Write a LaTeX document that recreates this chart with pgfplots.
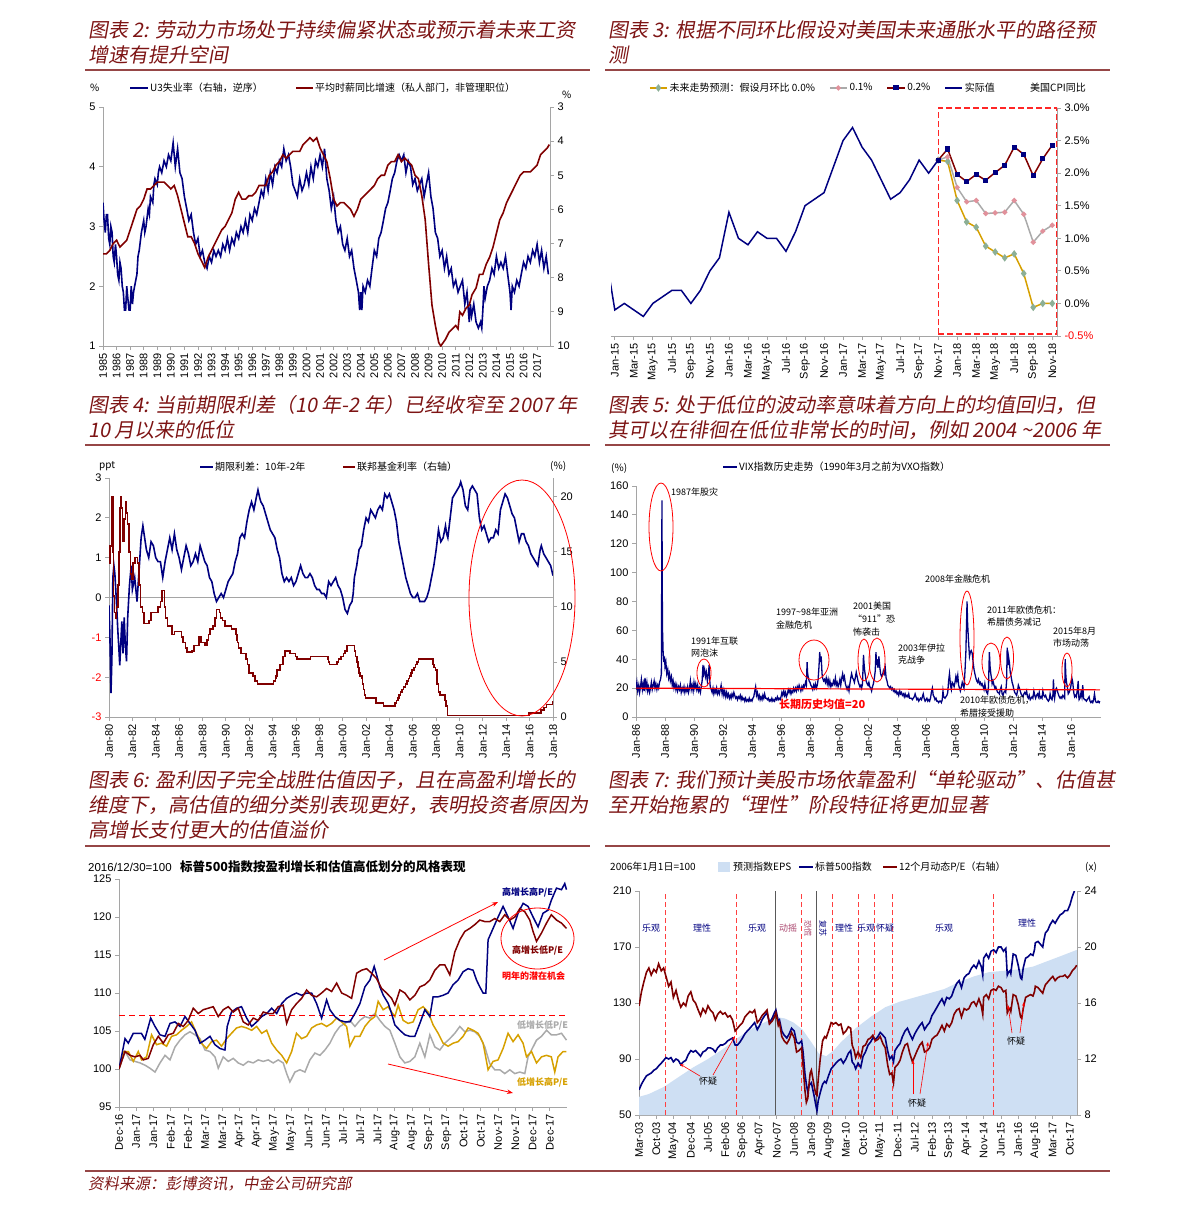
\documentclass[border=0pt]{standalone}
\usepackage{fontspec}
\setmainfont{Liberation Sans}
\newfontfamily\cjk{Noto Sans CJK SC}
\newfontfamily\cjkt[FakeSlant=0.18]{Noto Sans CJK SC}
\usepackage{pgfplots}
\pgfplotsset{compat=1.18}
\usetikzlibrary{arrows.meta}
\definecolor{navy}{RGB}{0,0,128}
\definecolor{dred}{RGB}{128,0,0}
\definecolor{tred}{RGB}{125,20,20}
\definecolor{rulec}{RGB}{150,70,70}
\definecolor{gold}{RGB}{214,160,0}
\definecolor{sage}{RGB}{140,175,150}
\definecolor{lgray}{RGB}{170,170,170}
\definecolor{pinkm}{RGB}{225,145,155}
\definecolor{lblue}{RGB}{206,223,243}
\definecolor{axgray}{RGB}{165,165,165}
\definecolor{plum}{RGB}{170,70,110}
\pgfplotsset{base/.style={scale only axis, anchor=south west,
  axis line style={draw=axgray, line width=0.8pt, -},
  tick style={draw=axgray, line width=0.8pt}, tick align=outside, major tick length=4pt,
  tick label style={font=\fontsize{11}{13}\selectfont, text=black},
  /pgf/number format/assume math mode=true, /pgf/number format/1000 sep={},
  xticklabel style={rotate=90, anchor=east}, clip=true}}
\newcommand{\ttl}[3]{\node[anchor=west, inner sep=0pt, text=tred] at (#1,#2) {\cjkt\fontsize{20}{24}\selectfont #3};}
\newcommand{\lgd}[3]{\node[anchor=west, inner sep=0pt] at (#1,#2) {\cjk\fontsize{10}{12}\selectfont #3};}
\newcommand{\anno}[3]{\node[anchor=west, inner sep=0pt] at (#1,#2) {\cjk\fontsize{9}{11}\selectfont #3};}
\newcommand{\smt}[3]{\node[inner sep=0pt, text=navy] at (#1,#2) {\cjk\fontsize{9}{11}\selectfont #3};}
\begin{document}
\begin{tikzpicture}[x=1pt,y=-1pt]
\path[use as bounding box] (0,0) rectangle (1191,1212);
% ---------------- titles and rules ----------------
\ttl{88}{30}{图表 2: 劳动力市场处于持续偏紧状态或预示着未来工资}
\ttl{88}{55}{增速有提升空间}
\ttl{608}{30}{图表 3: 根据不同环比假设对美国未来通胀水平的路径预}
\ttl{608}{55}{测}
\draw[rulec, line width=1.3pt] (85,70) -- (590,70);
\draw[rulec, line width=1.3pt] (605,70) -- (1110,70);
\ttl{88}{405}{图表 4: 当前期限利差（10 年-2 年）已经收窄至 2007 年}
\ttl{88}{430}{10 月以来的低位}
\ttl{608}{405}{图表 5: 处于低位的波动率意味着方向上的均值回归，但}
\ttl{608}{430}{其可以在徘徊在低位非常长的时间，例如 2004 \textasciitilde2006 年}
\draw[rulec, line width=1.3pt] (85,445) -- (590,445);
\draw[rulec, line width=1.3pt] (605,445) -- (1110,445);
\ttl{88}{780}{图表 6: 盈利因子完全战胜估值因子，且在高盈利增长的}
\ttl{88}{805}{维度下，高估值的细分类别表现更好，表明投资者原因为}
\ttl{88}{830}{高增长支付更大的估值溢价}
\ttl{608}{780}{图表 7: 我们预计美股市场依靠盈利“单轮驱动”、估值甚}
\ttl{608}{805}{至开始拖累的“理性”阶段特征将更加显著}
\draw[rulec, line width=1.3pt] (85,846) -- (590,846);
\draw[rulec, line width=1.3pt] (605,846) -- (1110,846);
\draw[rulec, line width=1.3pt] (85,1171) -- (1110,1171);
\node[anchor=west, inner sep=0pt, text=tred] at (88,1184) {\cjkt\fontsize{15.5}{18}\selectfont 资料来源：彭博资讯，中金公司研究部};

% ================= Chart 2 =================
\lgd{90}{88}{\%}
\draw[navy, line width=2pt] (130,88) -- (148,88); \lgd{150}{88}{U3失业率（右轴，逆序）}
\draw[dred, line width=2pt] (296,88) -- (313,88); \lgd{315}{88}{平均时薪同比增速（私人部门，非管理职位）}
\lgd{562}{95}{\%}
\begin{axis}[base, at={(103pt,-346pt)}, width=447pt, height=239pt, xmin=1985, xmax=2017.95, ymin=1, ymax=5,
  ytick={1,2,3,4,5}, xtick={1985,1986,...,2017}, axis x line*=bottom, axis y line*=left]
\addplot[navy, line width=1.6pt] coordinates {
(1985.00,3.4) (1985.08,3.1) (1985.17,2.9) (1985.25,3.2) (1985.33,3.2) (1985.42,2.8) (1985.50,2.7) (1985.58,3.0) (1985.67,2.9) (1985.75,2.5) (1985.83,2.4) (1985.92,2.7)
(1986.00,2.5) (1986.08,2.2) (1986.17,2.1) (1986.25,2.4) (1986.33,2.3) (1986.42,2.0) (1986.50,1.9) (1986.58,1.6) (1986.67,1.6) (1986.75,2.0) (1986.83,1.8) (1986.92,1.6)
(1987.00,1.6) (1987.08,2.0) (1987.17,1.7) (1987.25,1.9) (1987.33,2.0) (1987.50,2.2) (1987.58,2.5) (1987.67,2.6) (1987.83,2.9) (1988.00,3.1) (1988.08,2.9) (1988.17,3.0)
(1988.33,3.3) (1988.42,3.2) (1988.50,3.5) (1988.67,3.4) (1988.75,3.7) (1988.83,3.8) (1989.00,3.7) (1989.08,3.9) (1989.17,4.0) (1989.33,3.9) (1989.50,4.1) (1989.67,4.0) (1989.83,4.2)
(1990.00,4.1) (1990.17,4.4) (1990.25,4.2) (1990.33,4.0) (1990.50,4.3) (1990.67,3.9) (1990.83,3.8) (1991.00,3.5) (1991.17,3.3) (1991.33,3.1) (1991.50,3.2) (1991.67,2.9) (1991.83,2.7)
(1992.00,2.8) (1992.17,2.5) (1992.33,2.6) (1992.50,2.4) (1992.67,2.3) (1992.83,2.5) (1993.00,2.4) (1993.17,2.6) (1993.33,2.5) (1993.50,2.6) (1993.67,2.5) (1993.83,2.7)
(1994.00,2.6) (1994.17,2.8) (1994.33,2.6) (1994.50,2.8) (1994.67,2.7) (1994.83,2.9) (1995.00,2.8) (1995.17,3.0) (1995.33,2.9) (1995.50,3.1) (1995.67,2.9) (1995.83,3.2)
(1996.00,3.1) (1996.17,3.3) (1996.33,3.2) (1996.50,3.4) (1996.67,3.6) (1996.83,3.5) (1997.00,3.8) (1997.17,3.6) (1997.33,3.9) (1997.50,3.7) (1997.67,4.0) (1997.83,3.9)
(1998.00,4.1) (1998.17,4.0) (1998.33,4.3) (1998.50,4.1) (1998.67,4.2) (1998.83,4.0) (1999.00,3.7) (1999.17,3.6) (1999.33,3.5) (1999.50,3.8) (1999.67,3.6) (1999.83,3.7)
(2000.00,3.9) (2000.17,3.7) (2000.33,4.0) (2000.50,3.8) (2000.67,4.1) (2000.83,4.0) (2001.00,4.2) (2001.17,4.0) (2001.33,4.3) (2001.50,3.8) (2001.67,3.6) (2001.83,3.3)
(2002.00,3.5) (2002.17,3.1) (2002.33,2.9) (2002.50,3.0) (2002.67,2.7) (2002.83,2.6) (2003.00,2.8) (2003.17,2.5) (2003.33,2.6) (2003.50,2.3) (2003.67,2.1) (2003.83,1.9) (2003.92,1.6)
(2004.00,1.9) (2004.08,1.6) (2004.17,2.0) (2004.33,1.9) (2004.50,2.1) (2004.67,2.0) (2004.83,2.3) (2005.00,2.6) (2005.17,2.5) (2005.33,2.8) (2005.50,2.9) (2005.67,3.1) (2005.83,3.3)
(2006.00,3.4) (2006.17,3.6) (2006.33,3.8) (2006.50,3.9) (2006.67,4.1) (2006.83,4.2) (2007.00,4.1) (2007.17,4.2) (2007.33,3.9) (2007.50,4.1) (2007.67,4.0) (2007.83,3.7)
(2008.00,3.8) (2008.17,3.6) (2008.33,3.7) (2008.50,3.8) (2008.67,3.5) (2008.83,3.7) (2009.00,3.9) (2009.17,3.5) (2009.33,3.3) (2009.50,2.9) (2009.67,2.8) (2009.83,2.5)
(2010.00,2.6) (2010.17,2.3) (2010.33,2.5) (2010.50,2.2) (2010.67,2.3) (2010.83,2.0) (2011.00,2.1) (2011.17,1.9) (2011.33,2.0) (2011.50,2.1) (2011.67,1.7) (2011.83,1.9)
(2012.00,1.4) (2012.08,1.7) (2012.17,1.5) (2012.33,1.7) (2012.50,1.4) (2012.67,1.3) (2012.83,1.4) (2012.92,1.3) (2013.00,1.6) (2013.08,2.0) (2013.17,1.8) (2013.33,2.0) (2013.50,2.1) (2013.67,2.3) (2013.83,2.2)
(2014.00,2.5) (2014.17,2.3) (2014.33,2.4) (2014.50,2.3) (2014.67,2.5) (2014.83,2.2) (2015.00,1.9) (2015.08,1.6) (2015.17,2.0) (2015.33,1.9) (2015.50,2.1) (2015.67,2.0) (2015.83,2.2)
(2016.00,2.4) (2016.17,2.3) (2016.33,2.5) (2016.50,2.4) (2016.67,2.6) (2016.83,2.5) (2017.00,2.7) (2017.17,2.4) (2017.33,2.6) (2017.50,2.3) (2017.67,2.5) (2017.83,2.2)};
\end{axis}
\begin{axis}[base, at={(103pt,-346pt)}, width=447pt, height=239pt, xmin=1985, xmax=2017.95, ymin=3, ymax=10, y dir=reverse,
  ytick={3,4,...,10}, axis x line=none, axis y line*=right]
\addplot[dred, line width=1.6pt] coordinates {
(1985.0,7.3) (1985.25,7.3) (1985.5,7.2) (1985.75,7.0) (1986.0,6.9) (1986.25,7.1) (1986.5,7.0) (1986.75,6.9) (1987.0,6.6) (1987.25,6.3) (1987.5,6.0) (1987.75,5.9)
(1988.0,5.7) (1988.25,5.4) (1988.5,5.4) (1988.75,5.3) (1989.0,5.2) (1989.25,5.2) (1989.5,5.2) (1989.75,5.3) (1990.0,5.4) (1990.25,5.3) (1990.5,5.6) (1990.75,6.0)
(1991.0,6.4) (1991.25,6.8) (1991.5,6.8) (1991.75,7.0) (1992.0,7.3) (1992.25,7.5) (1992.5,7.7) (1992.75,7.4) (1993.0,7.2) (1993.25,7.0) (1993.5,6.8) (1993.75,6.6)
(1994.0,6.5) (1994.25,6.3) (1994.5,6.1) (1994.75,5.7) (1995.0,5.5) (1995.25,5.7) (1995.5,5.7) (1995.75,5.6) (1996.0,5.6) (1996.25,5.5) (1996.5,5.3) (1996.75,5.3)
(1997.0,5.3) (1997.25,5.0) (1997.5,4.9) (1997.75,4.7) (1998.0,4.6) (1998.25,4.4) (1998.5,4.5) (1998.75,4.4) (1999.0,4.3) (1999.25,4.3) (1999.5,4.3) (1999.75,4.1)
(2000.0,4.0) (2000.25,3.9) (2000.5,4.0) (2000.75,3.9) (2001.0,4.2) (2001.25,4.4) (2001.5,4.6) (2001.75,5.1) (2002.0,5.7) (2002.25,5.9) (2002.5,5.8) (2002.75,5.8)
(2003.0,5.9) (2003.25,6.0) (2003.5,6.2) (2003.75,6.0) (2004.0,5.7) (2004.25,5.6) (2004.5,5.5) (2004.75,5.4) (2005.0,5.3) (2005.25,5.1) (2005.5,5.0) (2005.75,5.0)
(2006.0,4.7) (2006.25,4.6) (2006.5,4.6) (2006.75,4.4) (2007.0,4.6) (2007.25,4.5) (2007.5,4.6) (2007.75,4.7) (2008.0,5.0) (2008.25,5.1) (2008.5,5.6) (2008.75,6.3)
(2009.0,7.6) (2009.25,8.8) (2009.5,9.4) (2009.75,9.9) (2009.9,10.0) (2010.25,9.8) (2010.5,9.6) (2010.75,9.5) (2011.0,9.4) (2011.17,9.5) (2011.3,9.0) (2011.5,9.1)
(2011.75,8.9) (2012.0,8.8) (2012.2,8.5) (2012.5,8.3) (2012.75,7.9) (2013.0,7.9) (2013.25,7.6) (2013.5,7.4) (2013.75,7.1) (2014.0,6.7) (2014.25,6.3) (2014.5,6.1)
(2014.75,5.8) (2015.0,5.6) (2015.25,5.4) (2015.5,5.2) (2015.75,5.0) (2016.0,4.9) (2016.25,4.9) (2016.5,4.9) (2016.75,4.8) (2017.0,4.7) (2017.25,4.4) (2017.5,4.3) (2017.75,4.2) (2017.9,4.1)};
\end{axis}

% ================= Chart 3 =================
\lgd{1030}{88}{美国CPI同比}
\begin{axis}[base, at={(611pt,-336pt)}, width=446pt, height=228pt, xmin=-0.4, xmax=46.5, ymin=-0.5, ymax=3.0,
  axis x line*=bottom, axis y line*=right, ytick={-0.5,0,0.5,1,1.5,2,2.5,3},
  yticklabels={\textcolor{red}{-0.5\%},0.0\%,0.5\%,1.0\%,1.5\%,2.0\%,2.5\%,3.0\%},
  xtick={0,2,...,46}, xticklabels={Jan-15,Mar-15,May-15,Jul-15,Sep-15,Nov-15,Jan-16,Mar-16,May-16,Jul-16,Sep-16,Nov-16,Jan-17,Mar-17,May-17,Jul-17,Sep-17,Nov-17,Jan-18,Mar-18,May-18,Jul-18,Sep-18,Nov-18},
  legend style={at={(axis description cs:0.085,1.088)}, anchor=west, draw=none, fill=none, legend columns=-1,
    font=\cjk\fontsize{10}{12}\selectfont, inner sep=0pt, /tikz/every even column/.append style={column sep=12pt}},
  legend image post style={line width=1.5pt}]
\draw[red!85, dash pattern=on 6pt off 3pt, line width=1.1pt] (axis cs:34,-0.47) rectangle (axis cs:46.5,3.0);
\addplot[gold, line width=1.5pt, mark=diamond*, mark size=2.6pt, mark options={fill=sage, draw=sage}] coordinates {
(34,2.2) (35,2.18) (36,1.58) (37,1.25) (38,1.17) (39,0.88) (40,0.79) (41,0.70) (42,0.76) (43,0.46) (44,-0.06) (45,0.0) (46,0.0)};
\addlegendentry{未来走势预测：假设月环比 0.0\%}
\addplot[lgray, line width=1.5pt, mark=*, mark size=1.8pt, mark options={fill=pinkm, draw=pinkm}] coordinates {
(34,2.2) (35,2.25) (36,1.78) (37,1.56) (38,1.58) (39,1.38) (40,1.39) (41,1.40) (42,1.58) (43,1.37) (44,0.94) (45,1.11) (46,1.20)};
\addlegendentry{0.1\%}
\addplot[dred, line width=1.5pt, mark=square*, mark size=1.8pt, mark options={fill=navy, draw=navy}] coordinates {
(34,2.2) (35,2.37) (36,1.98) (37,1.87) (38,1.98) (39,1.89) (40,2.01) (41,2.12) (42,2.40) (43,2.29) (44,1.96) (45,2.22) (46,2.43)};
\addlegendentry{0.2\%}
\addplot[navy, line width=1.5pt] coordinates {
(-1,0.8) (0,-0.1) (1,0.0) (2,-0.1) (3,-0.2) (4,0.0) (5,0.1) (6,0.2) (7,0.2) (8,0.0) (9,0.2) (10,0.5) (11,0.7) (12,1.4) (13,1.0) (14,0.9) (15,1.1) (16,1.0) (17,1.0)
(18,0.8) (19,1.1) (20,1.5) (21,1.6) (22,1.7) (23,2.1) (24,2.5) (25,2.7) (26,2.4) (27,2.2) (28,1.9) (29,1.6) (30,1.7) (31,1.9) (32,2.2) (33,2.0) (34,2.2)};
\addlegendentry{实际值}
\end{axis}

% ================= Chart 4 =================
\lgd{99}{466}{ppt}
\draw[navy, line width=2pt] (200,467) -- (213,467); \lgd{215}{467}{期限利差：10年-2年}
\draw[dred, line width=2pt] (343,467) -- (355,467); \lgd{357}{467}{联邦基金利率（右轴）}
\lgd{550}{466}{(\%)}
\begin{axis}[base, at={(109pt,-717pt)}, width=444pt, height=239pt, xmin=1980, xmax=2018, ymin=-3, ymax=3,
  ytick={-3,-2,...,3}, yticklabels={\textcolor{red}{-3},\textcolor{red}{-2},\textcolor{red}{-1},0,1,2,3},
  xtick={1980,1982,...,2018}, xticklabels={Jan-80,Jan-82,Jan-84,Jan-86,Jan-88,Jan-90,Jan-92,Jan-94,Jan-96,Jan-98,Jan-00,Jan-02,Jan-04,Jan-06,Jan-08,Jan-10,Jan-12,Jan-14,Jan-16,Jan-18},
  axis x line*=bottom, axis y line*=left]
\addplot[axgray, line width=0.8pt] coordinates {(1980,0) (2018,0)};
\addplot[navy, line width=1.6pt] coordinates {
(1980.0,-0.2) (1980.08,-1.0) (1980.17,-2.4) (1980.25,-1.5) (1980.33,0.5) (1980.42,0.8) (1980.5,0.6) (1980.58,0.2) (1980.67,-0.3) (1980.75,-0.8) (1980.83,-1.2) (1980.92,-1.7)
(1981.0,-1.2) (1981.1,-0.6) (1981.2,-1.4) (1981.3,-0.5) (1981.4,-1.2) (1981.5,-1.6) (1981.6,-0.5) (1981.75,0.3) (1981.9,0.8) (1982.0,0.2) (1982.2,0.5) (1982.4,-0.1) (1982.6,0.8)
(1982.75,1.5) (1982.9,1.8) (1983.0,1.6) (1983.2,1.2) (1983.4,1.0) (1983.6,1.4) (1983.8,1.3) (1984.0,1.0) (1984.2,0.9) (1984.4,0.9) (1984.6,0.5) (1984.8,0.9)
(1985.0,1.2) (1985.2,1.5) (1985.4,1.2) (1985.6,1.6) (1985.8,1.2) (1986.0,1.0) (1986.2,0.7) (1986.4,1.0) (1986.6,1.3) (1986.8,1.1) (1987.0,0.8) (1987.2,0.9) (1987.4,1.1)
(1987.6,0.9) (1987.8,1.3) (1988.0,1.1) (1988.2,0.9) (1988.4,0.8) (1988.6,0.5) (1988.8,0.4) (1989.0,0.1) (1989.2,-0.1) (1989.4,0.0) (1989.6,0.1) (1989.8,0.0)
(1990.0,0.2) (1990.2,0.4) (1990.4,0.5) (1990.6,0.6) (1990.8,0.9) (1991.0,1.1) (1991.2,1.5) (1991.4,1.6) (1991.6,1.5) (1991.8,1.9) (1992.0,2.2) (1992.2,2.4) (1992.4,2.2)
(1992.6,2.5) (1992.75,2.7) (1992.9,2.5) (1993.0,2.4) (1993.2,2.3) (1993.4,2.1) (1993.6,1.9) (1993.8,1.7) (1994.0,1.6) (1994.2,1.5) (1994.4,1.2) (1994.6,1.0) (1994.8,0.6)
(1995.0,0.4) (1995.2,0.5) (1995.4,0.4) (1995.6,0.5) (1995.8,0.3) (1996.0,0.4) (1996.2,0.6) (1996.4,0.8) (1996.6,0.6) (1996.8,0.5) (1997.0,0.5) (1997.2,0.6) (1997.4,0.5)
(1997.6,0.3) (1997.8,0.2) (1998.0,0.2) (1998.2,0.1) (1998.4,0.1) (1998.6,0.0) (1998.8,0.4) (1999.0,0.3) (1999.2,0.4) (1999.4,0.5) (1999.6,0.3) (1999.8,0.2)
(2000.0,0.0) (2000.2,-0.3) (2000.4,-0.4) (2000.6,-0.2) (2000.8,-0.1) (2000.9,0.1) (2001.0,0.5) (2001.2,0.8) (2001.4,1.2) (2001.6,1.3) (2001.8,1.7) (2002.0,2.0)
(2002.2,1.9) (2002.4,2.2) (2002.6,2.1) (2002.8,2.0) (2003.0,2.2) (2003.2,2.3) (2003.4,2.2) (2003.6,2.6) (2003.8,2.5) (2004.0,2.6) (2004.2,2.4) (2004.4,2.2) (2004.6,1.9)
(2004.8,1.4) (2005.0,1.1) (2005.2,0.8) (2005.4,0.5) (2005.6,0.3) (2005.8,0.1) (2006.0,0.0) (2006.2,0.0) (2006.4,0.1) (2006.6,-0.1) (2006.8,-0.1) (2007.0,-0.1)
(2007.2,0.0) (2007.4,0.2) (2007.6,0.5) (2007.8,0.8) (2008.0,1.2) (2008.2,1.7) (2008.4,1.4) (2008.6,1.5) (2008.8,1.8) (2008.9,1.6) (2009.0,1.5) (2009.2,2.0) (2009.4,2.5)
(2009.6,2.6) (2009.8,2.7) (2010.0,2.8) (2010.1,2.9) (2010.3,2.7) (2010.5,2.3) (2010.7,2.2) (2010.9,2.7) (2011.1,2.8) (2011.3,2.7) (2011.5,2.6) (2011.7,2.0) (2011.9,1.7)
(2012.1,1.8) (2012.3,1.6) (2012.5,1.4) (2012.7,1.5) (2012.9,1.5) (2013.1,1.7) (2013.3,1.6) (2013.5,2.2) (2013.7,2.4) (2013.9,2.6) (2014.1,2.5) (2014.3,2.3) (2014.5,2.1)
(2014.7,2.0) (2014.9,1.7) (2015.1,1.4) (2015.3,1.6) (2015.5,1.6) (2015.7,1.4) (2015.9,1.3) (2016.1,1.1) (2016.3,1.0) (2016.5,0.9) (2016.7,0.8) (2016.9,1.2) (2017.0,1.3)
(2017.2,1.1) (2017.4,1.0) (2017.6,0.9) (2017.8,0.8) (2018.0,0.55)};
\end{axis}
\begin{axis}[base, at={(109pt,-717pt)}, width=444pt, height=239pt, xmin=1980, xmax=2018, ymin=0, ymax=21.7,
  ytick={0,5,10,15,20}, axis x line=none, axis y line*=right]
\addplot[dred, line width=1.6pt, const plot] coordinates {
(1980.0,14.0) (1980.1,15.5) (1980.2,17.5) (1980.27,20) (1980.33,15) (1980.4,11) (1980.48,9.5) (1980.55,9.0) (1980.65,10) (1980.75,12) (1980.85,15) (1980.92,19) (1980.97,20)
(1981.05,19) (1981.15,16) (1981.3,18) (1981.4,19.5) (1981.5,18.5) (1981.6,17.5) (1981.72,15) (1981.85,13) (1981.95,12.5) (1982.05,14) (1982.2,14.5) (1982.45,14) (1982.55,12)
(1982.7,10) (1982.85,9.5) (1983.0,8.5) (1983.4,8.75) (1983.6,9.5) (1984.2,10) (1984.4,10.5) (1984.55,11.5) (1984.75,10) (1984.85,9) (1985.0,8.25) (1985.4,7.5) (1985.6,7.75)
(1986.2,7.25) (1986.35,6.75) (1986.55,6.25) (1986.7,5.9) (1987.1,6.0) (1987.3,6.5) (1987.7,7.25) (1987.85,6.75) (1988.2,6.5) (1988.4,7.0) (1988.5,7.5) (1988.65,8.0)
(1988.9,8.25) (1989.05,9.0) (1989.2,9.75) (1989.45,9.5) (1989.55,9.0) (1989.7,8.75) (1989.95,8.25) (1990.5,8.0) (1990.85,7.5) (1990.95,7.0) (1991.0,6.75) (1991.1,6.25)
(1991.3,5.75) (1991.7,5.25) (1991.85,4.75) (1991.97,4.0) (1992.3,3.75) (1992.5,3.25) (1992.7,3.0) (1994.08,3.25) (1994.25,3.5) (1994.3,3.75) (1994.37,4.25) (1994.62,4.75)
(1994.87,5.5) (1995.08,6.0) (1995.5,5.75) (1995.96,5.5) (1996.08,5.25) (1997.23,5.5) (1998.75,5.25) (1998.8,5.0) (1998.88,4.75) (1999.5,5.0) (1999.65,5.25) (1999.88,5.5)
(2000.08,5.75) (2000.22,6.0) (2000.38,6.5) (2001.0,6.0) (2001.08,5.5) (2001.22,5.0) (2001.3,4.5) (2001.38,4.0) (2001.46,3.75) (2001.64,3.5) (2001.71,3.0) (2001.79,2.5)
(2001.87,2.0) (2001.95,1.75) (2002.85,1.25) (2003.48,1.0) (2004.49,1.25) (2004.61,1.5) (2004.72,1.75) (2004.8,2.0) (2004.95,2.25) (2005.1,2.5) (2005.22,2.75) (2005.38,3.0)
(2005.5,3.25) (2005.63,3.5) (2005.72,3.75) (2005.83,4.0) (2005.95,4.25) (2006.08,4.5) (2006.22,4.75) (2006.38,5.0) (2006.5,5.25) (2007.71,4.75) (2007.83,4.5) (2007.95,4.25)
(2008.06,3.5) (2008.08,3.0) (2008.21,2.25) (2008.33,2.0) (2008.77,1.5) (2008.83,1.0) (2008.96,0.125) (2015.96,0.375) (2016.96,0.625) (2017.21,0.875) (2017.46,1.125) (2017.96,1.375) (2018.0,1.375)};
\end{axis}
\draw[red, line width=0.8pt] (522,598) ellipse [x radius=53pt, y radius=118pt];

% ================= Chart 5 =================
\lgd{611}{468}{(\%)}
\draw[navy, line width=2pt] (723,467) -- (737,467); \lgd{739}{467}{VIX指数历史走势（1990年3月之前为VXO指数）}
\begin{axis}[base, at={(636pt,-717pt)}, width=465pt, height=231pt, xmin=1986, xmax=2018.07, ymin=0, ymax=160,
  ytick={0,20,...,160}, xtick={1986,1988,...,2016},
  xticklabels={Jan-86,Jan-88,Jan-90,Jan-92,Jan-94,Jan-96,Jan-98,Jan-00,Jan-02,Jan-04,Jan-06,Jan-08,Jan-10,Jan-12,Jan-14,Jan-16},
  axis x line*=bottom, axis y line*=left]
\addplot[navy, line width=1.3pt] coordinates {
(1986.00,19) (1986.06,24) (1986.12,18) (1986.19,22) (1986.25,17) (1986.31,21) (1986.37,26) (1986.44,19) (1986.5,23) (1986.56,18) (1986.62,27) (1986.69,20) (1986.75,24) (1986.81,18) (1986.87,21) (1986.94,17)
(1987.0,20) (1987.06,24) (1987.12,19) (1987.19,22) (1987.25,25) (1987.31,20) (1987.37,23) (1987.44,19) (1987.5,22) (1987.56,20) (1987.62,24) (1987.69,26) (1987.75,30) (1987.79,150) (1987.81,90) (1987.83,60) (1987.87,45) (1987.92,38) (1987.96,42)
(1988.0,35) (1988.06,38) (1988.12,30) (1988.19,33) (1988.25,27) (1988.31,30) (1988.37,25) (1988.44,28) (1988.5,22) (1988.56,25) (1988.62,20) (1988.69,23) (1988.75,19) (1988.81,22) (1988.87,18) (1988.94,21)
(1989.0,19) (1989.06,22) (1989.12,17) (1989.19,20) (1989.25,18) (1989.31,21) (1989.37,17) (1989.44,20) (1989.5,18) (1989.56,21) (1989.62,17) (1989.69,20) (1989.75,25) (1989.81,19) (1989.87,22) (1989.94,18)
(1990.0,24) (1990.06,20) (1990.12,23) (1990.19,19) (1990.25,22) (1990.31,18) (1990.37,20) (1990.44,17) (1990.5,21) (1990.56,25) (1990.62,36) (1990.67,30) (1990.73,33) (1990.79,28) (1990.85,31) (1990.92,25) (1990.96,29)
(1991.0,30) (1991.04,36) (1991.08,26) (1991.12,21) (1991.19,19) (1991.25,17) (1991.31,20) (1991.37,16) (1991.44,19) (1991.5,17) (1991.56,20) (1991.62,16) (1991.69,18) (1991.75,16) (1991.81,19) (1991.87,22) (1991.94,16)
(1992.0,19) (1992.06,15) (1992.12,18) (1992.19,14) (1992.25,17) (1992.31,14) (1992.37,16) (1992.44,13) (1992.5,15) (1992.56,13) (1992.62,16) (1992.69,14) (1992.75,17) (1992.81,15) (1992.87,13) (1992.94,14)
(1993.0,12) (1993.06,14) (1993.12,13) (1993.19,15) (1993.25,12) (1993.31,14) (1993.37,12) (1993.44,13) (1993.5,11) (1993.56,13) (1993.62,11) (1993.69,12) (1993.75,11) (1993.81,13) (1993.87,11) (1993.94,12)
(1994.0,11) (1994.06,13) (1994.12,14) (1994.19,18) (1994.25,21) (1994.31,15) (1994.37,17) (1994.44,13) (1994.5,15) (1994.56,12) (1994.62,14) (1994.69,12) (1994.75,15) (1994.81,13) (1994.87,16) (1994.94,13)
(1995.0,13) (1995.06,12) (1995.12,13) (1995.19,11) (1995.25,12) (1995.31,11) (1995.37,13) (1995.44,11) (1995.5,12) (1995.56,11) (1995.62,13) (1995.69,12) (1995.75,14) (1995.81,12) (1995.87,13) (1995.94,12)
(1996.0,14) (1996.06,17) (1996.12,15) (1996.19,18) (1996.25,15) (1996.31,17) (1996.37,14) (1996.44,16) (1996.5,19) (1996.56,17) (1996.62,19) (1996.69,16) (1996.75,18) (1996.81,17) (1996.87,20) (1996.94,18)
(1997.0,20) (1997.06,18) (1997.12,21) (1997.19,19) (1997.25,22) (1997.31,20) (1997.37,18) (1997.44,21) (1997.5,19) (1997.56,22) (1997.62,21) (1997.69,24) (1997.75,22) (1997.8,38) (1997.83,31) (1997.87,28) (1997.94,25)
(1998.0,24) (1998.06,22) (1998.12,21) (1998.19,19) (1998.25,22) (1998.31,20) (1998.37,23) (1998.44,20) (1998.5,22) (1998.56,26) (1998.62,35) (1998.67,45) (1998.72,38) (1998.77,42) (1998.83,30) (1998.87,27) (1998.94,25)
(1999.0,26) (1999.06,24) (1999.12,27) (1999.19,23) (1999.25,26) (1999.31,22) (1999.37,25) (1999.44,21) (1999.5,23) (1999.56,22) (1999.62,25) (1999.69,23) (1999.75,27) (1999.81,22) (1999.87,24) (1999.94,21)
(2000.0,23) (2000.06,26) (2000.12,22) (2000.19,27) (2000.25,30) (2000.31,26) (2000.37,28) (2000.44,23) (2000.5,21) (2000.56,19) (2000.62,21) (2000.69,18) (2000.75,23) (2000.81,27) (2000.87,30) (2000.94,27)
(2001.0,26) (2001.06,24) (2001.12,27) (2001.19,31) (2001.25,28) (2001.31,25) (2001.37,23) (2001.44,21) (2001.5,22) (2001.56,20) (2001.62,23) (2001.69,43) (2001.72,38) (2001.77,32) (2001.83,28) (2001.87,25) (2001.94,23)
(2002.0,22) (2002.06,24) (2002.12,21) (2002.19,20) (2002.25,18) (2002.31,21) (2002.37,23) (2002.44,27) (2002.5,32) (2002.55,45) (2002.59,36) (2002.62,40) (2002.69,34) (2002.75,42) (2002.81,35) (2002.87,30) (2002.94,28)
(2003.0,29) (2003.06,32) (2003.12,30) (2003.19,34) (2003.25,27) (2003.31,25) (2003.37,22) (2003.44,21) (2003.5,20) (2003.56,21) (2003.62,19) (2003.69,20) (2003.75,18) (2003.81,19) (2003.87,17) (2003.94,18)
(2004.0,16) (2004.06,17) (2004.12,15) (2004.19,18) (2004.25,16) (2004.31,17) (2004.37,15) (2004.44,16) (2004.5,14) (2004.56,16) (2004.62,14) (2004.69,15) (2004.75,14) (2004.81,16) (2004.87,13) (2004.94,13)
(2005.0,13) (2005.06,12) (2005.12,13) (2005.19,14) (2005.25,16) (2005.31,14) (2005.37,12) (2005.44,13) (2005.5,11) (2005.56,12) (2005.62,13) (2005.69,12) (2005.75,14) (2005.81,16) (2005.87,13) (2005.94,11)
(2006.0,12) (2006.06,13) (2006.12,11) (2006.19,12) (2006.25,11) (2006.31,13) (2006.37,17) (2006.44,20) (2006.5,15) (2006.56,14) (2006.62,12) (2006.69,13) (2006.75,11) (2006.81,11) (2006.87,10) (2006.94,11)
(2007.0,11) (2007.06,10) (2007.12,12) (2007.17,18) (2007.22,14) (2007.31,13) (2007.37,14) (2007.44,15) (2007.5,17) (2007.56,25) (2007.62,30) (2007.69,22) (2007.75,19) (2007.81,24) (2007.87,23) (2007.94,21)
(2008.0,24) (2008.06,28) (2008.12,25) (2008.19,29) (2008.25,22) (2008.31,20) (2008.37,18) (2008.44,21) (2008.5,24) (2008.56,22) (2008.62,20) (2008.69,32) (2008.75,45) (2008.79,62) (2008.83,80) (2008.87,65) (2008.92,55) (2008.96,48)
(2009.0,42) (2009.06,45) (2009.12,46) (2009.19,44) (2009.25,38) (2009.31,33) (2009.37,30) (2009.44,27) (2009.5,25) (2009.56,24) (2009.62,26) (2009.69,23) (2009.75,24) (2009.81,22) (2009.87,23) (2009.94,21)
(2010.0,19) (2010.06,23) (2010.12,19) (2010.19,17) (2010.25,16) (2010.31,21) (2010.37,45) (2010.42,35) (2010.47,30) (2010.53,26) (2010.56,23) (2010.62,25) (2010.69,22) (2010.75,20) (2010.81,21) (2010.87,19) (2010.94,17)
(2011.0,17) (2011.06,16) (2011.12,19) (2011.19,21) (2011.25,16) (2011.31,15) (2011.37,17) (2011.44,18) (2011.5,17) (2011.56,25) (2011.6,48) (2011.65,36) (2011.69,42) (2011.75,38) (2011.81,31) (2011.87,28) (2011.94,24)
(2012.0,22) (2012.06,19) (2012.12,17) (2012.19,16) (2012.25,15) (2012.31,18) (2012.37,22) (2012.44,20) (2012.5,18) (2012.56,16) (2012.62,15) (2012.69,14) (2012.75,16) (2012.81,17) (2012.87,16) (2012.94,18)
(2013.0,14) (2013.06,13) (2013.12,15) (2013.19,12) (2013.25,13) (2013.31,14) (2013.37,13) (2013.44,18) (2013.5,15) (2013.56,13) (2013.62,15) (2013.69,16) (2013.75,14) (2013.81,17) (2013.87,13) (2013.94,14)
(2014.0,13) (2014.06,18) (2014.12,15) (2014.19,14) (2014.25,15) (2014.31,13) (2014.37,12) (2014.44,11) (2014.5,12) (2014.56,16) (2014.62,13) (2014.69,12) (2014.75,15) (2014.79,26) (2014.83,16) (2014.87,13) (2014.94,19)
(2015.0,20) (2015.06,18) (2015.12,16) (2015.19,14) (2015.25,13) (2015.31,14) (2015.37,13) (2015.44,15) (2015.5,14) (2015.56,13) (2015.6,40) (2015.65,28) (2015.69,24) (2015.75,21) (2015.81,16) (2015.87,17) (2015.94,19)
(2016.0,22) (2016.06,27) (2016.12,24) (2016.19,17) (2016.25,14) (2016.31,15) (2016.37,14) (2016.44,19) (2016.5,25) (2016.53,15) (2016.56,12) (2016.62,13) (2016.69,17) (2016.75,14) (2016.81,22) (2016.87,13) (2016.94,12)
(2017.0,12) (2017.06,11) (2017.12,12) (2017.19,13) (2017.25,14) (2017.31,11) (2017.37,10) (2017.44,11) (2017.5,10) (2017.56,12) (2017.62,16) (2017.69,11) (2017.75,10) (2017.81,10) (2017.87,11) (2017.94,10) (2017.98,11)};
\addplot[red, line width=1.2pt] coordinates {(1986,20) (2018,18.8)};
\end{axis}
\begin{scope}[red, line width=0.8pt]
\draw (661,527) ellipse [x radius=12pt, y radius=44pt];
\draw (704,673) ellipse [x radius=7pt, y radius=14pt];
\draw (814,660) ellipse [x radius=15pt, y radius=20pt];
\draw (864,660) ellipse [x radius=6pt, y radius=21pt];
\draw (877,660) ellipse [x radius=8pt, y radius=22pt];
\draw (967,638) ellipse [x radius=7pt, y radius=47pt];
\draw (991,662) ellipse [x radius=9pt, y radius=19pt];
\draw (1007,658) ellipse [x radius=6.5pt, y radius=21pt];
\draw (1067,670) ellipse [x radius=5pt, y radius=17pt];
\end{scope}
\anno{671}{492}{1987年股灾}
\anno{691}{641}{1991年互联}
\anno{691}{653}{网泡沫}
\anno{776}{612}{1997\textasciitilde98年亚洲}
\anno{776}{625}{金融危机}
\anno{853}{606}{2001美国}
\anno{853}{619}{“911”恐}
\anno{853}{632}{怖袭击}
\anno{898}{648}{2003年伊拉}
\anno{898}{660}{克战争}
\anno{925}{579}{2008年金融危机}
\anno{987}{610}{2011年欧债危机：}
\anno{987}{622}{希腊债务减记}
\anno{960}{700}{2010年欧债危机，}
\anno{960}{713}{希腊接受援助}
\anno{1053}{631}{2015年8月}
\anno{1053}{643}{市场动荡}
\node[anchor=west, inner sep=0pt, text=red] at (779,704) {\cjk\bfseries\fontsize{11}{13}\selectfont 长期历史均值=20};

% ================= Chart 6 =================
\node[anchor=west, inner sep=0pt] at (88,867) {\fontsize{11.5}{13}\selectfont 2016/12/30=100};
\node[anchor=west, inner sep=0pt] at (180,867) {\cjk\bfseries\fontsize{12.5}{14}\selectfont 标普500指数按盈利增长和估值高低划分的风格表现};
\begin{axis}[base, at={(119pt,-1107pt)}, width=448pt, height=228pt, xmin=0, xmax=260, ymin=95, ymax=125,
  ytick={95,100,...,125}, xtick={0,10,...,250},
  xticklabels={Dec-16,Jan-17,Jan-17,Feb-17,Feb-17,Mar-17,Mar-17,Apr-17,Apr-17,May-17,May-17,Jun-17,Jun-17,Jul-17,Jul-17,Jul-17,Aug-17,Aug-17,Sep-17,Sep-17,Oct-17,Oct-17,Nov-17,Nov-17,Dec-17,Dec-17},
  axis x line*=bottom, axis y line*=left]
\addplot[lgray, line width=1.5pt] coordinates {
(0,100) (3.5,102.3) (6.4,101.2) (9.3,101.0) (12.2,100.8) (15.1,100.5) (18,100.1) (20.9,99.6) (23.8,100.8) (26.7,101.8) (29.6,101.2) (32.5,102.9) (35.4,103.8) (38.3,104.5)
(41.2,104.9) (44.1,104.5) (47,104.0) (49.9,102.5) (52.8,102.3) (55.7,101.6) (57.6,100.1) (60.5,101.6) (63.4,101.0) (66.3,101.4) (69.2,100.8) (72.1,100.5) (75,101.0) (77.9,100.8)
(80.8,101.2) (83.7,101.0) (86.6,101.2) (89.5,100.8) (92.4,101.2) (95.3,100.8) (97.3,99.4) (99.2,98.3) (102.1,99.6) (105,99.9) (107.9,99.6) (110.8,101.2) (113.7,102.1) (116.6,101.8)
(119.5,102.5) (122.4,103.4) (125.3,104.7) (128.2,105.6) (131.1,106.0) (134,106.4) (136.9,105.6) (139.8,106.4) (142.7,106.9) (145.6,106.7) (148.5,107.3) (151.4,106.4) (154.3,105.6)
(157.2,105.1) (160.1,103.4) (163,101.6) (165.9,100.8) (168.8,101.0) (171.7,101.6) (174.6,103.4) (177.5,101.6) (180.4,104.5) (183.3,102.9) (186.2,102.5) (189.1,103.4) (192,104.0)
(194.9,104.7) (197.8,105.6) (200.7,104.9) (203.6,105.1) (206.5,104.9) (209.4,104.3) (212.3,102.9) (215.2,100.7) (218.1,99.9) (221,99.9) (223.9,99.4) (226.8,99.9) (229.7,99.4)
(232.6,99.6) (235.5,99.4) (237.4,101.6) (239.4,102.5) (242.3,103.8) (245.2,104.3) (248.1,105.1) (250.9,104.5) (253.9,104.5) (256.8,104.7) (259.7,103.8)};
\addplot[gold, line width=1.5pt] coordinates {
(0,100) (2.5,102.3) (5.4,102.3) (8.3,101.0) (11.2,102.3) (13.1,101.2) (16,101.6) (18.9,104.5) (21.8,103.2) (24.7,103.4) (27.6,103.0) (30.5,104.3) (33.4,104.5) (36.3,105.1)
(39.2,105.6) (42.1,106.2) (45,104.7) (47.8,103.4) (50.8,102.7) (53.7,103.6) (56.6,103.8) (59.5,103.0) (62.5,104.0) (65.3,104.7) (68.2,105.4) (71.1,105.6) (74.1,105.4) (77,105.1)
(79.9,105.6) (82.8,104.7) (85.7,105.1) (88.6,103.4) (91.5,102.5) (94.4,101.8) (97.3,100.8) (100.2,102.3) (103,104.7) (106,104.0) (108.9,104.3) (111.8,105.4) (114.7,105.8)
(117.6,106.0) (120.5,105.6) (123.4,106.0) (126.3,106.7) (129.2,106.2) (132.1,105.6) (134,103.0) (136.9,104.3) (139.8,104.3) (142.7,105.6) (145.6,106.4) (148.5,106.9) (150.4,108.9)
(153.3,107.8) (156.2,108.2) (158.2,107.5) (160.1,106.9) (162,108.4) (164.9,106.4) (167.8,106.0) (170.7,106.2) (173.6,107.8) (176.5,108.2) (179.4,107.5) (182.3,105.8) (185.2,104.7)
(188.1,103.4) (191,103.0) (193.9,103.4) (196.8,103.6) (199.7,104.3) (202.6,105.4) (205.5,105.1) (208.4,104.7) (211.3,103.4) (214.2,99.9) (217.1,101.0) (220,101.2) (222.9,102.7)
(225.8,104.7) (228.7,103.6) (231.6,104.5) (234.5,103.4) (236.5,101.6) (239.4,102.3) (242.3,100.8) (245.2,101.6) (248.1,101.8) (250.9,101.6) (252.9,99.6) (254.8,101.6) (257.7,102.3) (259.7,102.3)};
\addplot[draw=red, dash pattern=on 6pt off 4pt, line width=1.3pt] coordinates {(0,107) (260,107)};
\addplot[navy, line width=1.5pt] coordinates {
(0,100) (3.5,104.0) (5.4,103.4) (8.3,104.7) (13,104.7) (15,103.9) (18.4,106.7) (20.9,105.6) (23.8,104.5) (26.7,104.3) (29.6,106.0) (32.5,106.2) (35.4,105.6) (38.3,106.9)
(41.2,106.0) (44.1,105.1) (47,103.4) (49.9,103.8) (52.8,104.3) (55.7,103.2) (58.6,102.7) (61.5,102.5) (62.8,105.6) (65.3,107.5) (68.3,108.0) (71.1,108.2) (74.1,106.7) (77,105.6)
(79.9,106.2) (82.8,106.9) (85.7,107.3) (88.6,108.0) (91.5,107.3) (94.4,108.6) (97.3,109.3) (100.2,109.7) (103,110.0) (106,109.7) (108.9,110.0) (111.8,110.0) (114.7,108.6)
(117.6,106.7) (120.5,109.1) (122.4,107.8) (125.3,106.9) (128.2,106.4) (131.1,106.2) (134,106.2) (136.9,107.3) (139.8,108.6) (142.7,110.8) (145.6,111.7) (148.1,113.5) (149.5,112.4)
(151.4,110.8) (153.4,109.7) (156.3,108.6) (158.2,107.3) (160.1,105.8) (163,105.1) (165.9,104.5) (168.8,104.3) (171.7,104.3) (174.6,106.0) (177.5,107.8) (180.4,106.9) (182.3,109.5)
(185.2,109.5) (188.1,109.7) (191,110.0) (193.9,111.1) (196.8,111.7) (199.7,112.8) (202.6,113.2) (205.5,113.0) (207.5,111.7) (209.4,110.8) (211.3,110.0) (212.9,110.0) (214.2,117.0)
(217.1,118.5) (220,120.0) (222.9,121.4) (225.8,120.0) (228.7,118.5) (231.6,120.5) (234.5,121.8) (237.4,121.4) (240.3,120.0) (243.2,118.7) (246.1,120.5) (249,120.9) (250.9,122.2)
(253.9,123.8) (256.8,123.6) (258.7,124.4) (259.7,123.6)};
\addplot[dred, line width=1.5pt] coordinates {
(0,100) (3.5,102.3) (6.4,101.8) (9.3,101.6) (12.2,101.8) (14.1,101.2) (17,101.4) (19.9,103.2) (22.8,104.3) (25.7,103.4) (28.6,104.5) (31.5,104.7) (34.4,106.0) (37.3,105.6)
(40.2,106.4) (43.1,108.0) (46,107.3) (48.9,107.8) (51.8,108.0) (54.7,108.2) (57.6,106.9) (60.5,107.8) (63.4,108.2) (66.3,107.5) (69.2,108.0) (72.1,106.2) (75,105.8) (77.9,106.7)
(80.8,106.4) (83.7,107.5) (86.6,107.3) (89.5,107.3) (92.4,108.2) (95.3,108.4) (97.3,106.0) (100.2,107.8) (103,108.6) (106,109.3) (108.9,110.4) (111.8,109.7) (114.7,109.5)
(117.6,110.0) (120.5,110.6) (123.4,110.2) (126.3,111.3) (129.2,110.0) (132.1,109.7) (135,109.3) (137.9,112.6) (140.8,113.0) (143.7,113.2) (146.6,112.6) (149.5,111.9) (152.4,110.6)
(155.3,110.0) (158.2,109.3) (160.1,108.4) (163,110.4) (165.9,110.0) (168.8,109.1) (171.7,109.7) (174.6,110.8) (177.5,111.1) (180.4,111.7) (183.3,113.0) (186.2,113.7) (189.1,113.7)
(192,112.4) (194.9,115.4) (197.8,117.0) (200.7,118.1) (203.6,118.5) (206.5,119.0) (209.4,119.6) (212.3,119.4) (215.2,119.4) (218.1,119.8) (221,119.4) (223.9,120.3) (226.8,119.6)
(229.7,120.0) (232.6,121.1) (235.5,120.7) (238.4,119.6) (240.3,118.1) (242.3,116.8) (245.2,117.9) (248.1,119.2) (250.9,120.3) (253.9,119.6) (256.8,119.2) (259.7,118.5)};
\end{axis}
\draw[red, line width=0.8pt, -{Stealth[length=6pt]}] (384,960) -- (498,902);
\draw[red, line width=0.8pt, -{Stealth[length=6pt]}] (388,1064) -- (513,1093);
\draw[red, line width=0.8pt] (537.5,938.5) ellipse [x radius=36.5pt, y radius=30.5pt];
\node[anchor=west, inner sep=0pt, text=navy] at (502,892) {\cjk\bfseries\fontsize{9}{11}\selectfont 高增长高P/E};
\node[anchor=west, inner sep=0pt, text=dred] at (512,950) {\cjk\bfseries\fontsize{9}{11}\selectfont 高增长低P/E};
\node[anchor=west, inner sep=0pt, text=red] at (502,976) {\cjk\bfseries\fontsize{9}{11}\selectfont 明年的潜在机会};
\node[anchor=west, inner sep=0pt, text=lgray] at (517,1025) {\cjk\bfseries\fontsize{9}{11}\selectfont 低增长低P/E};
\node[anchor=west, inner sep=0pt, text=gold] at (517,1082) {\cjk\bfseries\fontsize{9}{11}\selectfont 低增长高P/E};

% ================= Chart 7 =================
\lgd{610}{867}{2006年1月1日=100}
\fill[lblue] (718,862) rectangle (730,872); \lgd{733}{867}{预测指数EPS}
\draw[navy, line width=2pt] (799,867) -- (813,867); \lgd{815}{867}{标普500指数}
\draw[dred, line width=2pt] (883,867) -- (897,867); \lgd{899}{867}{12个月动态P/E（右轴）}
\lgd{1085}{867}{(x)}
\begin{axis}[base, at={(639pt,-1115pt)}, width=438pt, height=224pt, x filter/.expression={x-2000}, xmin=3.1667, xmax=17.99, ymin=50, ymax=210,
  ytick={50,90,130,170,210},
  xtick={3.1667,3.75,4.3333,4.9167,5.5,6.0833,6.6667,7.25,7.8333,8.4167,9.0,9.5833,10.1667,10.75,11.3333,11.9167,12.5,13.0833,13.6667,14.25,14.8333,15.4167,16.0,16.5833,17.1667,17.75},
  xticklabels={Mar-03,Oct-03,May-04,Dec-04,Jul-05,Feb-06,Sep-06,Apr-07,Nov-07,Jun-08,Jan-09,Aug-09,Mar-10,Oct-10,May-11,Dec-11,Jul-12,Feb-13,Sep-13,Apr-14,Nov-14,Jun-15,Jan-16,Aug-16,Mar-17,Oct-17},
  axis x line*=bottom, axis y line*=left]
\addplot[fill=lblue, draw=none] coordinates {
(2003.17,50) (2003.17,63) (2003.5,65) (2004.0,70) (2004.5,77) (2005.0,84) (2005.5,90) (2006.0,97) (2006.5,105) (2007.0,112) (2007.5,117) (2007.8,120) (2008.1,119) (2008.4,116) (2008.7,111)
(2009.0,102) (2009.25,94) (2009.5,92) (2009.75,96) (2010.0,102) (2010.5,112) (2011.0,120) (2011.5,127) (2012.0,131) (2012.5,134) (2013.0,137) (2013.5,140) (2014.0,145)
(2014.5,149) (2015.0,152) (2015.5,153) (2016.0,154) (2016.5,156) (2017.0,160) (2017.5,164) (2017.99,168) (2017.99,50)};
\addplot[red!75, dash pattern=on 5pt off 3pt, line width=0.9pt] coordinates {(2004.05,50) (2004.05,210)};
\addplot[red!75, dash pattern=on 5pt off 3pt, line width=0.9pt] coordinates {(2006.45,50) (2006.45,210)};
\addplot[red!75, dash pattern=on 5pt off 3pt, line width=0.9pt] coordinates {(2008.65,50) (2008.65,210)};
\addplot[red!75, dash pattern=on 5pt off 3pt, line width=0.9pt] coordinates {(2009.73,50) (2009.73,210)};
\addplot[red!75, dash pattern=on 5pt off 3pt, line width=0.9pt] coordinates {(2010.58,50) (2010.58,210)};
\addplot[red!75, dash pattern=on 5pt off 3pt, line width=0.9pt] coordinates {(2011.12,50) (2011.12,210)};
\addplot[red!75, dash pattern=on 5pt off 3pt, line width=0.9pt] coordinates {(2011.76,50) (2011.76,210)};
\addplot[red!75, dash pattern=on 5pt off 3pt, line width=0.9pt] coordinates {(2015.15,50) (2015.15,210)};
\addplot[black!65, line width=1pt] coordinates {(2007.8,50) (2007.8,210)};
\addplot[black!65, line width=1pt] coordinates {(2009.19,50) (2009.19,210)};
\addplot[navy, line width=1.6pt] coordinates {
(2003.17,68) (2003.25,72) (2003.33,75) (2003.42,78) (2003.5,79) (2003.58,80) (2003.67,82) (2003.75,83) (2003.83,85) (2003.92,87) (2004.0,89) (2004.08,91) (2004.17,90) (2004.25,91)
(2004.33,88) (2004.42,90) (2004.5,89) (2004.58,86) (2004.67,88) (2004.75,89) (2004.83,93) (2004.92,96) (2005.0,95) (2005.08,96) (2005.17,94) (2005.25,92) (2005.33,95) (2005.42,96)
(2005.5,98) (2005.58,98) (2005.67,97) (2005.75,95) (2005.83,98) (2005.92,100) (2006.0,100) (2006.08,101) (2006.17,103) (2006.25,104) (2006.33,105) (2006.42,100) (2006.5,100)
(2006.58,102) (2006.67,105) (2006.75,108) (2006.83,110) (2006.92,112) (2007.0,114) (2007.08,116) (2007.17,111) (2007.25,114) (2007.33,118) (2007.42,121) (2007.5,123) (2007.58,116)
(2007.67,119) (2007.75,123) (2007.8,125) (2007.88,117) (2007.92,118) (2008.0,110) (2008.08,107) (2008.17,105) (2008.25,108) (2008.33,112) (2008.42,110) (2008.5,102) (2008.58,101)
(2008.67,103) (2008.72,95) (2008.78,80) (2008.83,72) (2008.88,66) (2008.92,71) (2008.96,72) (2009.0,73) (2009.05,68) (2009.1,63) (2009.15,57) (2009.19,53) (2009.23,60) (2009.3,66)
(2009.38,72) (2009.45,74) (2009.5,73) (2009.58,78) (2009.67,83) (2009.75,85) (2009.83,87) (2009.92,89) (2010.0,90) (2010.08,87) (2010.17,90) (2010.25,94) (2010.33,96) (2010.38,88)
(2010.45,86) (2010.5,83) (2010.58,87) (2010.67,84) (2010.75,92) (2010.83,95) (2010.92,100) (2011.0,102) (2011.08,105) (2011.17,104) (2011.25,106) (2011.33,109) (2011.42,107)
(2011.5,105) (2011.58,96) (2011.65,90) (2011.72,92) (2011.78,88) (2011.83,96) (2011.92,99) (2012.0,101) (2012.08,106) (2012.17,110) (2012.25,112) (2012.33,108) (2012.42,104)
(2012.5,108) (2012.58,111) (2012.67,114) (2012.75,116) (2012.83,111) (2012.92,114) (2013.0,116) (2013.08,121) (2013.17,124) (2013.25,127) (2013.33,130) (2013.42,133) (2013.5,129)
(2013.58,134) (2013.67,133) (2013.75,135) (2013.83,140) (2013.92,144) (2014.0,146) (2014.08,141) (2014.17,148) (2014.25,150) (2014.33,151) (2014.42,155) (2014.5,157) (2014.58,155)
(2014.67,160) (2014.75,156) (2014.8,150) (2014.83,162) (2014.92,165) (2015.0,162) (2015.08,167) (2015.17,168) (2015.25,166) (2015.33,170) (2015.42,170) (2015.5,167) (2015.58,169)
(2015.63,150) (2015.67,152) (2015.72,153) (2015.75,151) (2015.83,165) (2015.92,164) (2016.0,157) (2016.08,148) (2016.12,147) (2016.17,155) (2016.25,162) (2016.33,163) (2016.42,165)
(2016.5,164) (2016.55,168) (2016.58,173) (2016.67,174) (2016.75,172) (2016.83,170) (2016.87,175) (2016.92,180) (2017.0,182) (2017.08,186) (2017.17,189) (2017.25,187) (2017.33,190)
(2017.42,193) (2017.5,194) (2017.58,196) (2017.67,196) (2017.75,200) (2017.83,206) (2017.92,211) (2017.98,215)};
\end{axis}
\begin{axis}[base, at={(639pt,-1115pt)}, width=438pt, height=224pt, x filter/.expression={x-2000}, xmin=3.1667, xmax=17.99, ymin=8, ymax=24,
  ytick={8,12,16,20,24}, axis x line=none, axis y line*=right]
\addplot[dred, line width=1.6pt] coordinates {
(2003.17,15.8) (2003.25,16.8) (2003.33,17.5) (2003.42,18.2) (2003.5,18.5) (2003.58,18.0) (2003.67,18.4) (2003.75,18.2) (2003.83,18.8) (2003.92,18.3) (2004.0,18.5) (2004.08,17.9)
(2004.17,17.2) (2004.25,17.5) (2004.33,16.4) (2004.42,16.9) (2004.5,16.2) (2004.58,15.7) (2004.67,16.0) (2004.75,15.8) (2004.83,16.5) (2004.92,16.8) (2005.0,16.2) (2005.08,16.0)
(2005.17,15.5) (2005.25,15.1) (2005.33,15.6) (2005.42,15.3) (2005.5,15.8) (2005.58,15.5) (2005.67,15.3) (2005.75,14.8) (2005.83,15.2) (2005.92,15.4) (2006.0,15.2) (2006.08,15.3)
(2006.17,15.0) (2006.25,15.1) (2006.33,14.8) (2006.42,14.0) (2006.5,14.2) (2006.58,14.4) (2006.67,14.6) (2006.75,15.0) (2006.83,15.2) (2006.92,15.4) (2007.0,15.3) (2007.08,15.5)
(2007.17,14.6) (2007.25,14.8) (2007.33,15.1) (2007.42,15.3) (2007.5,15.5) (2007.58,14.5) (2007.67,14.7) (2007.75,15.0) (2007.8,15.3) (2007.88,14.4) (2007.92,14.6) (2008.0,13.6)
(2008.08,13.3) (2008.17,13.1) (2008.25,13.4) (2008.33,13.9) (2008.42,13.5) (2008.5,12.5) (2008.58,12.6) (2008.67,12.8) (2008.72,11.5) (2008.78,9.8) (2008.83,8.9) (2008.88,9.2)
(2008.92,10.2) (2008.96,11.0) (2009.0,11.2) (2009.05,10.6) (2009.1,10.0) (2009.15,9.5) (2009.19,9.4) (2009.23,10.5) (2009.3,12.0) (2009.38,13.3) (2009.45,13.6) (2009.5,13.5)
(2009.58,14.0) (2009.67,14.6) (2009.75,14.5) (2009.83,14.6) (2009.92,14.4) (2010.0,14.5) (2010.08,13.8) (2010.17,14.0) (2010.25,14.3) (2010.33,14.2) (2010.38,13.0) (2010.45,12.6)
(2010.5,12.1) (2010.58,12.5) (2010.67,12.1) (2010.75,12.9) (2010.83,13.0) (2010.92,13.4) (2011.0,13.5) (2011.08,13.7) (2011.17,13.3) (2011.25,13.4) (2011.33,13.6) (2011.42,13.1)
(2011.5,12.8) (2011.58,11.6) (2011.65,10.9) (2011.72,11.0) (2011.78,10.3) (2011.83,11.4) (2011.92,11.6) (2012.0,11.9) (2012.08,12.5) (2012.17,13.0) (2012.25,13.1) (2012.33,12.4)
(2012.42,11.8) (2012.5,12.2) (2012.58,12.6) (2012.67,13.0) (2012.75,13.2) (2012.83,12.5) (2012.92,12.6) (2013.0,12.8) (2013.08,13.4) (2013.17,13.6) (2013.25,13.7) (2013.33,14.0)
(2013.42,14.4) (2013.5,14.0) (2013.58,14.5) (2013.67,14.3) (2013.75,14.6) (2013.83,15.2) (2013.92,15.5) (2014.0,15.6) (2014.08,15.0) (2014.17,15.6) (2014.25,15.5) (2014.33,15.6)
(2014.42,16.0) (2014.5,16.1) (2014.58,15.8) (2014.67,16.3) (2014.75,15.8) (2014.8,15.2) (2014.83,16.4) (2014.92,16.6) (2015.0,16.3) (2015.08,16.9) (2015.17,17.0) (2015.25,16.9)
(2015.33,17.2) (2015.42,17.1) (2015.5,16.8) (2015.58,16.9) (2015.63,15.3) (2015.67,15.5) (2015.72,15.6) (2015.75,15.4) (2015.83,16.6) (2015.92,16.5) (2016.0,15.9) (2016.08,15.0)
(2016.12,14.9) (2016.17,15.6) (2016.25,16.4) (2016.33,16.5) (2016.42,16.6) (2016.5,16.5) (2016.55,16.8) (2016.58,17.2) (2016.67,17.1) (2016.75,16.9) (2016.83,16.7) (2016.87,17.0)
(2016.92,17.3) (2017.0,17.5) (2017.08,17.7) (2017.17,17.9) (2017.25,17.6) (2017.33,17.8) (2017.42,17.9) (2017.5,17.9) (2017.58,18.0) (2017.67,17.8) (2017.75,18.0) (2017.83,18.3)
(2017.92,18.5) (2017.98,18.7)};
\end{axis}
\smt{651}{928}{乐观} \smt{702}{928}{理性} \smt{757}{928}{乐观}
\node[inner sep=0pt, text=plum] at (788,928) {\cjk\fontsize{9}{11}\selectfont 动摇};
\node[inner sep=0pt, text=plum, rotate=-90] at (808,928) {\cjk\fontsize{8}{10}\selectfont 恐慌};
\node[inner sep=0pt, text=navy, rotate=-90] at (823,928) {\cjk\fontsize{8}{10}\selectfont 复苏};
\smt{844}{928}{理性} \smt{866}{928}{乐观} \smt{885}{928}{怀疑} \smt{944}{928}{乐观} \smt{1027}{923}{理性}
\node[inner sep=0pt] at (708,1081) {\cjk\fontsize{9}{11}\selectfont 怀疑};
\node[inner sep=0pt] at (917,1103) {\cjk\fontsize{9}{11}\selectfont 怀疑};
\node[inner sep=0pt] at (1016,1041) {\cjk\fontsize{9}{11}\selectfont 怀疑};
\begin{scope}[red, line width=0.6pt, -{Stealth[length=4pt]}]
\draw (700,1076) -- (680,1064);
\draw (713,1075) -- (735,1036);
\draw (913,1094) -- (913,1060);
\draw (920,1094) -- (928,1042);
\draw (1012,1033) -- (1008,1005);
\draw (1020,1033) -- (1024,1002);
\end{scope}
\end{tikzpicture}
\end{document}
